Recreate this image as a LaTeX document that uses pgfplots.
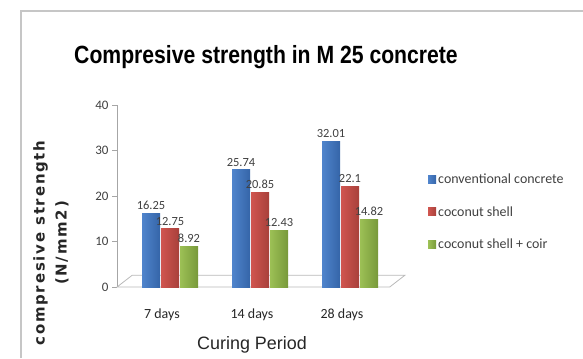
\documentclass[border=0pt]{standalone}
\usepackage{pgfplots}
\pgfplotsset{compat=1.18}
\usepackage{fontspec}
\setmainfont{Carlito}
\newfontfamily\titlefont[FakeStretch=0.85]{Liberation Sans}
\newfontfamily\ylabfont[LetterSpace=12]{DejaVu Sans}
\newfontfamily\xlabfont{Liberation Sans}

\definecolor{blueD}{HTML}{3565A8}
\definecolor{blueM}{HTML}{4F84CC}
\definecolor{blueL}{HTML}{86B2EE}
\definecolor{redD}{HTML}{A8403B}
\definecolor{redM}{HTML}{D0554F}
\definecolor{redL}{HTML}{EE8C86}
\definecolor{greenD}{HTML}{78993A}
\definecolor{greenM}{HTML}{9CC055}
\definecolor{greenL}{HTML}{C9E88A}

\pgfplotsset{
  conv/.style={draw=none, left color=blueM, middle color=blueL, right color=blueD, bar shift=-11bp},
  shell/.style={draw=none, left color=redM, middle color=redL, right color=redD, bar shift=8bp},
  coir/.style={draw=none, left color=greenM, middle color=greenL, right color=greenD, bar shift=27bp},
}

\begin{document}
\begin{tikzpicture}[x=1bp,y=1bp]
\useasboundingbox (0,0) rectangle (583,358);
% outer frame
\draw[gray!45, line width=1.3bp] (21,0) -- (21,347) -- (583,347);
% title and axis titles
\node[font=\titlefont\bfseries\fontsize{25}{28}\selectfont] at (266,301)
  {Compresive strength in M 25 concrete};
\node[rotate=90, align=center, text=black!85,
      font=\ylabfont\bfseries\fontsize{15}{22}\selectfont] at (51,115)
  {compresive strength\\(N/mm2)};
\node[font=\xlabfont\fontsize{18}{18}\selectfont, text=black!85] at (252,13) {Curing Period};

\begin{axis}[
  at={(117bp,71bp)}, anchor=south west,
  scale only axis, width=270bp, height=182bp,
  clip=false,
  ymin=0, ymax=40, ytick={0,10,20,30,40},
  xmin=-0.5, xmax=2.5,
  xtick={0,1,2}, xticklabels={7 days,14 days,28 days},
  extra x ticks={0.5,1.5}, extra x tick labels={},
  extra x tick style={major tick length=5bp, tick style={gray!70}},
  axis y line*=left, axis x line*=bottom,
  x axis line style={draw=none},
  y axis line style={gray!70},
  major x tick style={draw=none},
  ytick style={gray!70},
  tick align=outside, major tick length=5bp,
  /pgf/number format/assume math mode=true,
  /pgf/number format/precision=2,
  yticklabel style={font=\fontsize{13}{13}\selectfont, text=black!75},
  xticklabel style={font=\fontsize{14}{14}\selectfont, text=black!85, yshift=-13bp},
  ybar, bar width=18bp,
  nodes near coords,
  every node near coord/.append style={font=\fontsize{12.5}{12.5}\selectfont, text=black!75},
  legend cell align=left,
  legend style={at={(1.152,0.632)}, anchor=north west, draw=none, fill=none,
                font=\fontsize{14}{14}\selectfont, row sep=17bp, inner sep=0pt,
                text=black!75},
  legend image code/.code={\fill[#1,draw=none] (0bp,-4bp) rectangle (8bp,4bp);},
]
% floor of the chart
\draw[gray!55, line width=0.8bp] (axis cs:-0.5,0) -- (axis cs:2.53,0)
   -- (axis cs:2.7,2.6) -- (axis cs:-0.33,2.6) -- cycle;

\addlegendimage{conv}
\addlegendimage{shell}
\addlegendimage{coir}

% one plot per bar, so each bar gets its own cylinder shading
\addplot[conv, forget plot] coordinates {(0,16.25)};
\addplot[conv, forget plot] coordinates {(1,25.74)};
\addplot[conv, forget plot] coordinates {(2,32.01)};
\addplot[shell, forget plot] coordinates {(0,12.75)};
\addplot[shell, forget plot] coordinates {(1,20.85)};
\addplot[shell, forget plot] coordinates {(2,22.1)};
\addplot[coir, forget plot] coordinates {(0,8.92)};
\addplot[coir, forget plot] coordinates {(1,12.43)};
\addplot[coir, forget plot] coordinates {(2,14.82)};
\legend{conventional concrete, coconut shell, coconut shell + coir}
\end{axis}
\end{tikzpicture}
\end{document}
